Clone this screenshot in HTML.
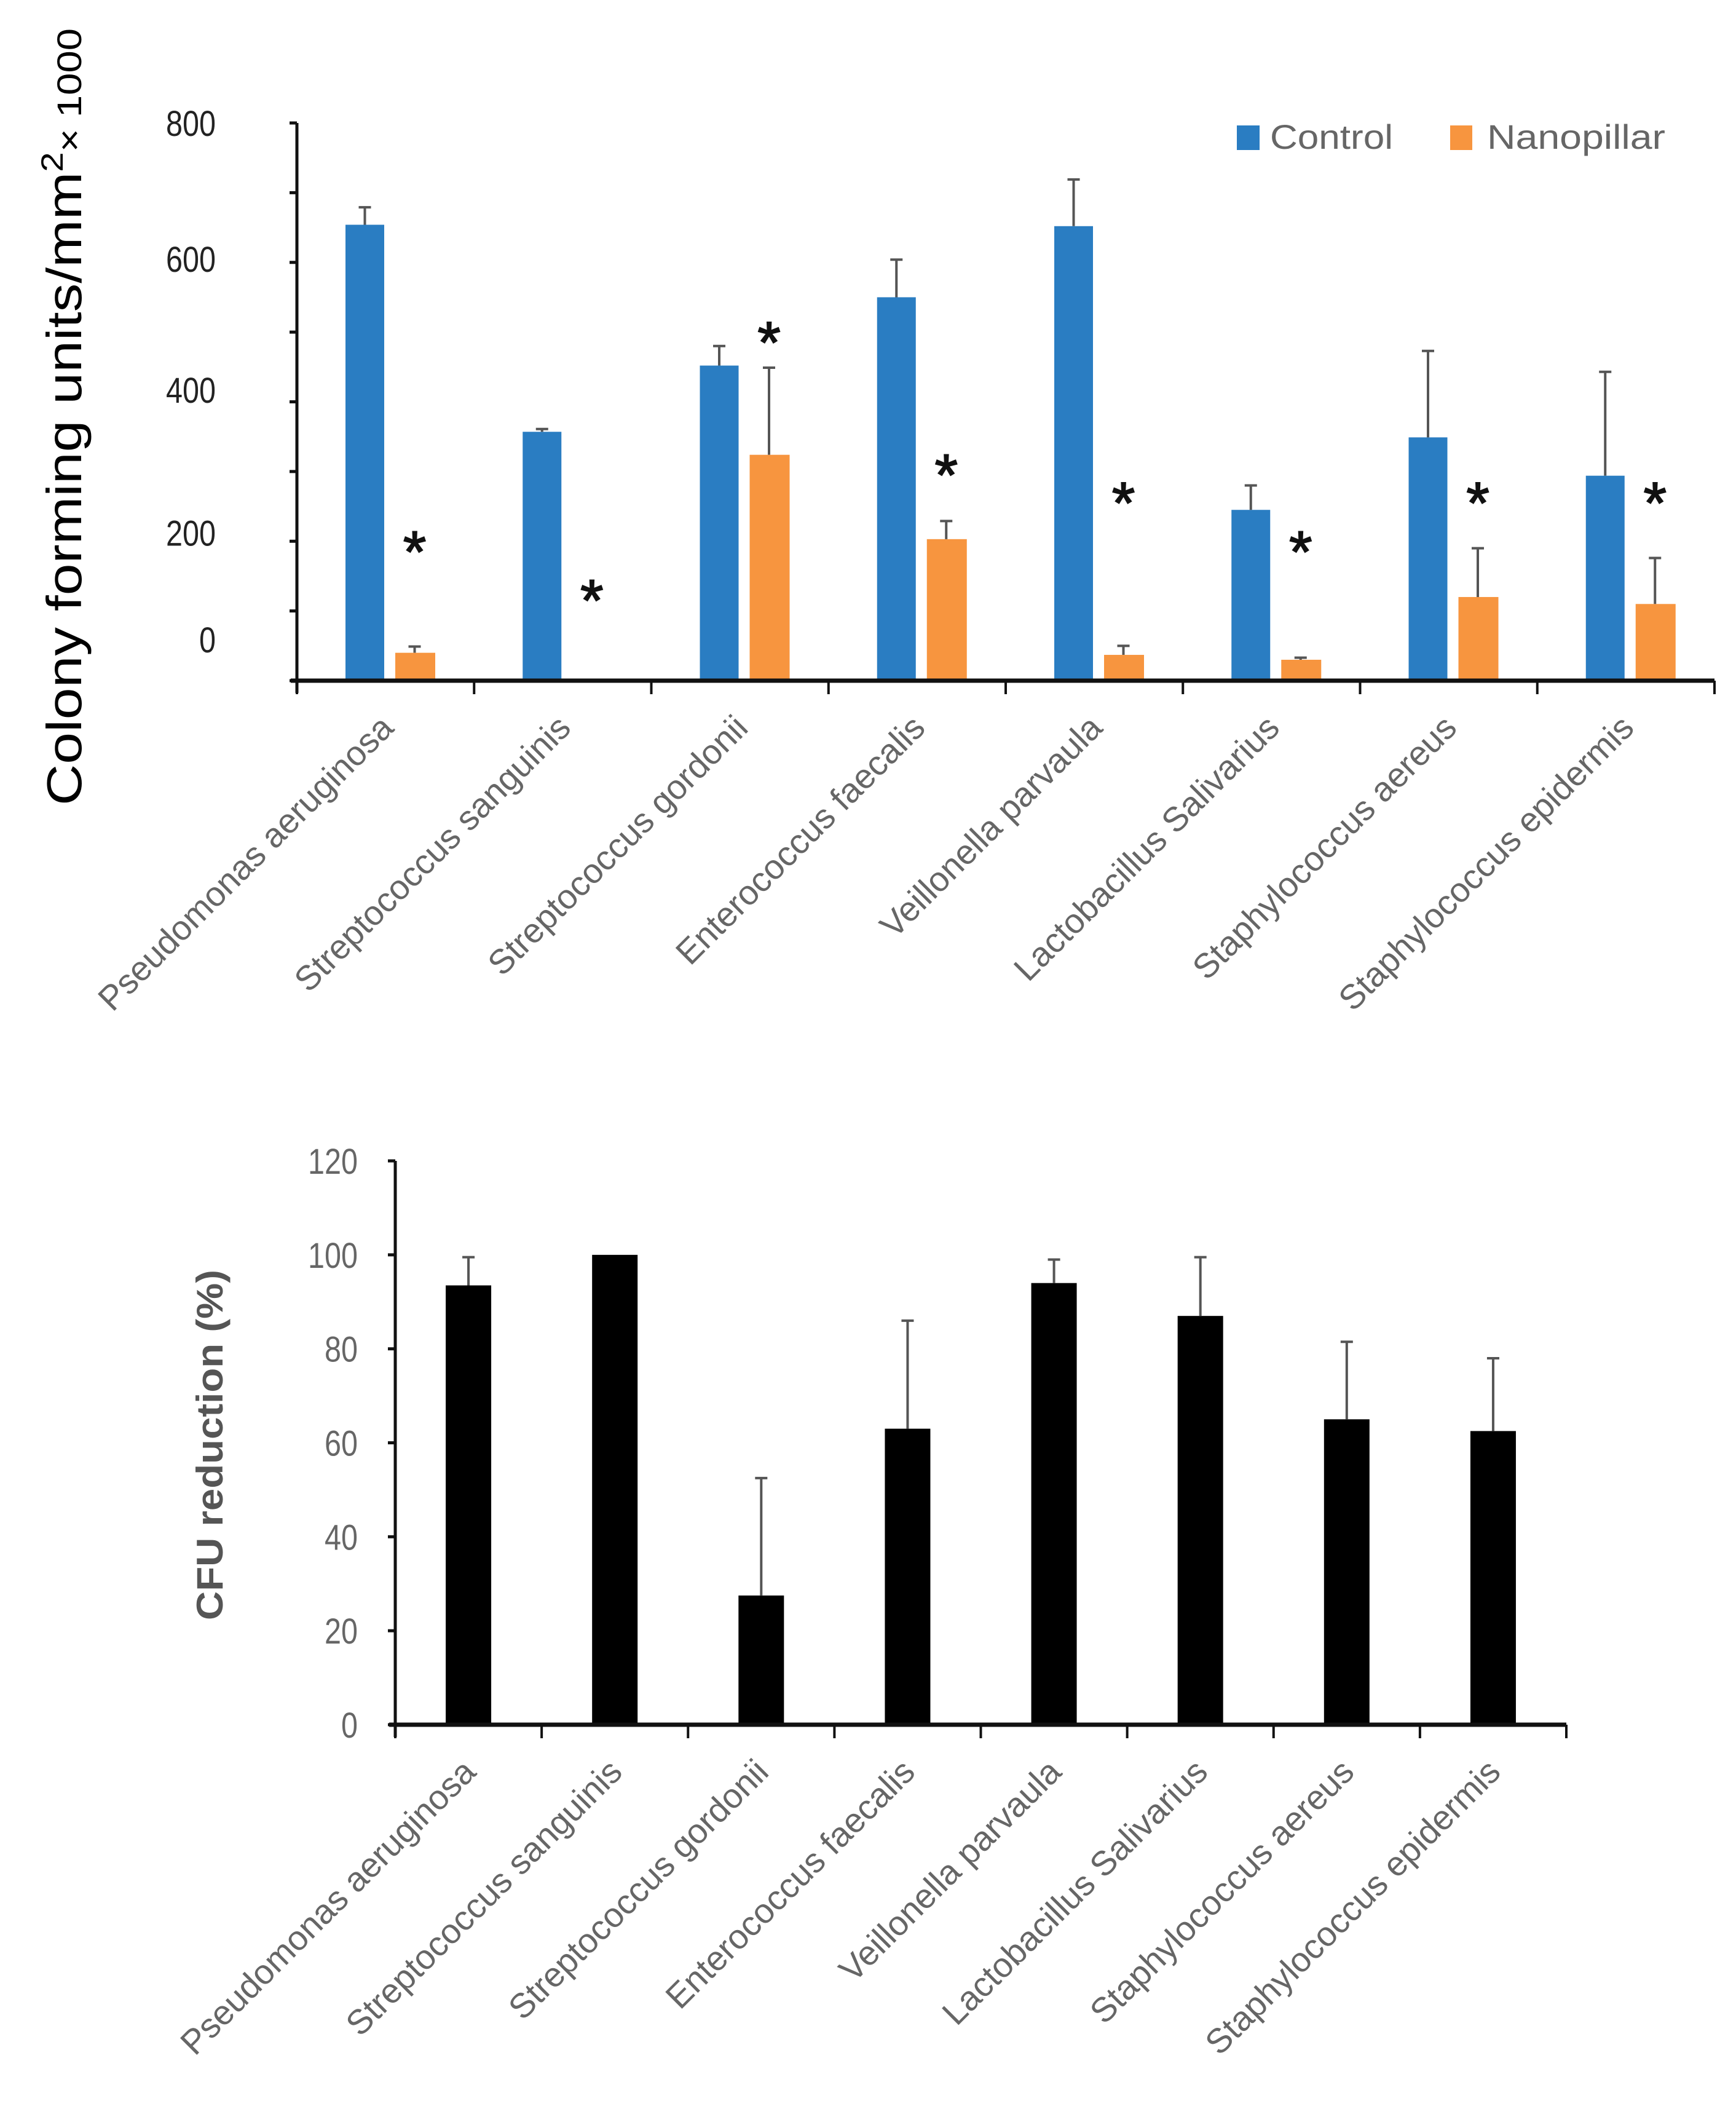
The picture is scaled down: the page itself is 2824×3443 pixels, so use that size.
<!DOCTYPE html>
<html><head><meta charset="utf-8"><style>
html,body{margin:0;padding:0;background:#fff;}
svg{display:block;font-family:"Liberation Sans",sans-serif;}
</style></head><body>
<svg id="fig" width="2824" height="3443" viewBox="0 0 2824 3443" xmlns="http://www.w3.org/2000/svg">
<rect x="0" y="0" width="2824" height="3443" fill="#fff"/>
<g id="top"></g>
<g id="bot"></g>
</svg>
<script>
const categories = ["Pseudomonas aeruginosa","Streptococcus sanguinis","Streptococcus gordonii","Enterococcus faecalis","Veillonella parvaula","Lactobacillus Salivarius","Staphylococcus aereus","Staphylococcus epidermis"];
const controlVals = [654, 357, 452, 550, 652, 245, 349, 294];
const controlErr = [25, 4, 28, 54, 67, 35, 124, 149];
const nanoVals = [40, 0, 324, 203, 37, 30, 120, 110];
const nanoErr = [9, 0, 125, 26, 13, 3, 70, 66];
const sigStar = [true, true, true, true, true, true, true, true];
const starVals = [200, 130, 500, 310, 270, 200, 270, 270];
const topTickLabels = ["800","600","400","200","0"];
const topTickLabelVals = [800, 605, 417, 212, 59];
const reductionVals = [93.5, 100, 27.5, 63, 94, 87, 65, 62.5];
const reductionErr = [6, 0, 25, 23, 5, 12.5, 16.5, 15.5];
const botTickLabels = ["0","20","40","60","80","100","120"];
const botTickVals = [0,20,40,60,80,100,120];

const NS = "http://www.w3.org/2000/svg";
function mk(parent, tag, attrs, text){
  const e = document.createElementNS(NS, tag);
  for (const k in attrs) e.setAttribute(k, attrs[k]);
  if (text !== undefined) e.textContent = text;
  parent.appendChild(e);
  return e;
}

// ---- top chart ----
const T = document.getElementById('top');
const tX0 = 483, tX1 = 2789, tY0 = 1107, tYtop = 200, tMax = 800;
const tBand = (tX1 - tX0) / categories.length;
const ty = v => tY0 - v / tMax * (tY0 - tYtop);
let ax = mk(T,'line',{x1:tX0,y1:tYtop,x2:tX0,y2:tY0+20,stroke:'#111','stroke-width':5});


for (let v = 0; v <= tMax; v += 100) {
  const t = mk(T,'line',{x1:tX0-12,y1:ty(v),x2:tX0,y2:ty(v),stroke:'#111','stroke-width':5});
  
  
}
topTickLabels.forEach((s,i)=>{
  const t = mk(T,'text',{x:351,y:ty(topTickLabelVals[i])+21,'text-anchor':'end','font-size':58,fill:'#222',textLength:s.length*27,lengthAdjust:'spacingAndGlyphs'},s);
  
  
});
categories.forEach((c,i)=>{
  const gx = tX0 + i*tBand;
  const cx = gx + 79, nx = gx + 160, w = 63;
  const cb = mk(T,'rect',{x:cx,y:ty(controlVals[i]),width:w,height:tY0-ty(controlVals[i]),fill:'#2a7dc2'});
  
  
  if (controlErr[i] > 0) {
    const e1 = mk(T,'path',{d:`M${cx+w/2},${ty(controlVals[i])}V${ty(controlVals[i]+controlErr[i])}M${cx+w/2-10},${ty(controlVals[i]+controlErr[i])}H${cx+w/2+10}`,stroke:'#555','stroke-width':4,fill:'none'});
    
    
  }
  if (nanoVals[i] > 0) {
    const nb = mk(T,'rect',{x:nx,y:ty(nanoVals[i]),width:w+2,height:tY0-ty(nanoVals[i]),fill:'#f7953f'});
    
    
  }
  if (nanoErr[i] > 0) {
    const e2 = mk(T,'path',{d:`M${nx+w/2},${ty(nanoVals[i])}V${ty(nanoVals[i]+nanoErr[i])}M${nx+w/2-10},${ty(nanoVals[i]+nanoErr[i])}H${nx+w/2+10}`,stroke:'#555','stroke-width':4,fill:'none'});
    
    
  }
  if (sigStar[i]) {
    const s = mk(T,'text',{x:nx+w/2,y:ty(starVals[i])+50,'text-anchor':'middle','font-size':96,fill:'#111',stroke:'#111','stroke-width':2},'*');
    
    
  }
  const cxm = gx + tBand/2 + 16, cym = tY0 + 80;
  const lab = mk(T,'text',{x:cxm,y:cym,'text-anchor':'end','font-size':56,fill:'#666',transform:`rotate(-45 ${cxm} ${cym})`},c);
  
  
});
const xa = mk(T,'line',{x1:tX0-10,y1:tY0,x2:tX1,y2:tY0,stroke:'#111','stroke-width':7});


for (let i=0;i<=categories.length;i++){
  const t = mk(T,'line',{x1:tX0+i*tBand,y1:tY0,x2:tX0+i*tBand,y2:tY0+22,stroke:'#111','stroke-width':4});
  
  
}
const yt = mk(T,'text',{x:0,y:0,'font-size':80,fill:'#000',textLength:1264,lengthAdjust:'spacingAndGlyphs',transform:'translate(132 1310) rotate(-90)'});


mk(yt,'tspan',{},'Colony forming units/mm');
mk(yt,'tspan',{'font-size':50,dy:-30},'2');
mk(yt,'tspan',{'font-size':56,dy:30},'× 1000');
const l1 = mk(T,'rect',{x:2012,y:204,width:37,height:40,fill:'#2a7dc2'});


const lt1 = mk(T,'text',{x:2066,y:242,'font-size':56,fill:'#666',textLength:200,lengthAdjust:'spacingAndGlyphs'},'Control');


const l2 = mk(T,'rect',{x:2359,y:204,width:36,height:40,fill:'#f7953f'});


const lt2 = mk(T,'text',{x:2419,y:242,'font-size':56,fill:'#666',textLength:290,lengthAdjust:'spacingAndGlyphs'},'Nanopillar');



// ---- bottom chart ----
const B = document.getElementById('bot');
const bX0 = 643, bX1 = 2548, bY0 = 2805, bYtop = 1888, bMax = 120;
const bBand = (bX1 - bX0) / categories.length;
const by = v => bY0 - v / bMax * (bY0 - bYtop);
const bya = mk(B,'line',{x1:bX0,y1:bYtop,x2:bX0,y2:bY0+20,stroke:'#111','stroke-width':5});


botTickVals.forEach((v,i)=>{
  const t = mk(B,'line',{x1:bX0-12,y1:by(v),x2:bX0,y2:by(v),stroke:'#111','stroke-width':5});
  
  
  const s = botTickLabels[i];
  const tl = mk(B,'text',{x:582,y:by(v)+21,'text-anchor':'end','font-size':58,fill:'#666',textLength:s.length*27,lengthAdjust:'spacingAndGlyphs'},s);
  
  
});
categories.forEach((c,i)=>{
  const cx = bX0 + (i+0.5)*bBand, w = 74;
  const r = mk(B,'rect',{x:cx-w/2,y:by(reductionVals[i]),width:w,height:bY0-by(reductionVals[i]),fill:'#000'});
  
  
  if (reductionErr[i] > 0) {
    const e = mk(B,'path',{d:`M${cx},${by(reductionVals[i])}V${by(reductionVals[i]+reductionErr[i])}M${cx-10},${by(reductionVals[i]+reductionErr[i])}H${cx+10}`,stroke:'#555','stroke-width':4,fill:'none'});
    
    
  }
  const lx = cx + 15, ly = bY0 + 80;
  const lab = mk(B,'text',{x:lx,y:ly,'text-anchor':'end','font-size':56,fill:'#666',transform:`rotate(-45 ${lx} ${ly})`},c);
  
  
});
const bxa = mk(B,'line',{x1:bX0-10,y1:bY0,x2:bX1,y2:bY0,stroke:'#111','stroke-width':7});


for (let i=0;i<=categories.length;i++){
  const t = mk(B,'line',{x1:bX0+i*bBand,y1:bY0,x2:bX0+i*bBand,y2:bY0+22,stroke:'#111','stroke-width':4});
  
  
}
const byt = mk(B,'text',{x:0,y:0,'text-anchor':'middle','font-size':60,'font-weight':'bold',fill:'#555',textLength:570,lengthAdjust:'spacingAndGlyphs',transform:'translate(362 2350) rotate(-90)'},'CFU reduction (%)');


</script>
</body></html>
